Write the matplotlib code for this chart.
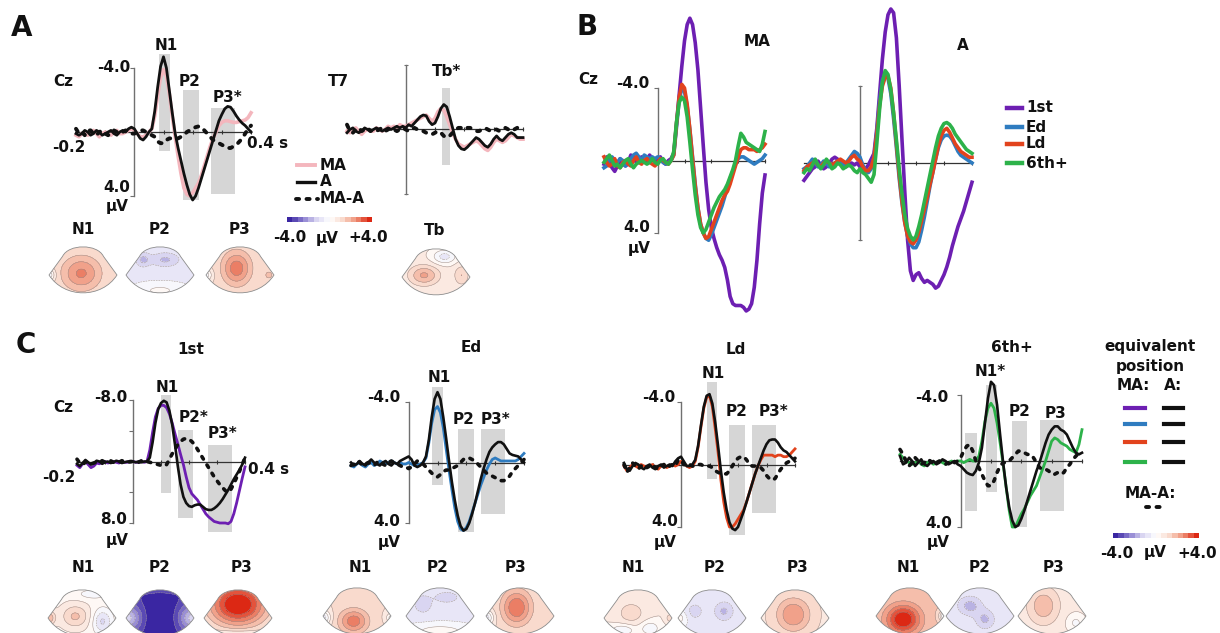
import numpy as np
import matplotlib
matplotlib.use("Agg")
import matplotlib.pyplot as plt
from matplotlib.colors import LinearSegmentedColormap, ListedColormap, BoundaryNorm
from matplotlib.path import Path
from matplotlib.patches import PathPatch
from matplotlib.lines import Line2D
import matplotlib.cm as cm

W, H = 1220, 633
plt.rcParams['font.family'] = ['DejaVu Sans']
plt.rcParams['font.weight'] = 'bold'

# ---------------- data (μV, negative up) ----------------
TIME_S = np.round(np.linspace(-0.2, 0.4, 61), 3)

# Panel A, Cz
A_CZ_MA = [0.2, 0.3, 0.1, 0.0, 0.2, 0.1, -0.1, 0.1, 0.3, 0.1, 0.0, 0.1, 0.2, 0.0, -0.1, 0.1, 0.1, 0.0, -0.1, -0.2,
           -0.1, 0.1, 0.3, 0.3, 0.2, 0.0, -0.2, -1.0, -2.3, -3.4,
           -3.9, -3.5, -2.4, -1.0, 0.3, 1.5, 2.6, 3.5, 3.9, 4.0,
           3.8, 3.5, 3.2, 2.7, 2.1, 1.5, 0.9, 0.4, 0.0, -0.4,
           -0.6, -0.7, -0.7, -0.65, -0.6, -0.6, -0.65, -0.7, -0.75, -0.9,
           -1.2]
A_CZ_A = [0.1, 0.2, 0.1, -0.1, 0.0, 0.2, 0.1, -0.1, 0.0, 0.2, 0.1, 0.0, -0.1, 0.1, 0.2, 0.0, -0.1, 0.0, -0.2, -0.3,
          -0.2, 0.1, 0.4, 0.5, 0.3, 0.0, -0.2, -1.3, -2.8, -4.1,
          -4.7, -4.0, -2.6, -1.2, 0.1, 1.0, 1.8, 2.6, 3.3, 3.9,
          4.25, 4.0, 3.5, 2.9, 2.3, 1.7, 1.1, 0.5, -0.1, -0.7,
          -1.1, -1.45, -1.6, -1.55, -1.3, -1.0, -0.75, -0.55, -0.4, -0.2,
          0.0]
A_CZ_DIFF = [-0.2, 0.1, 0.0, 0.2, -0.1, -0.1, 0.1, 0.2, 0.0, -0.1, 0.1, 0.2, 0.1, -0.1, 0.0, 0.1, 0.0, -0.1, 0.0, 0.1,
             0.1, 0.0, -0.1, -0.1, 0.0, 0.1, 0.2, 0.3, 0.6, 0.7,
             0.7, 0.5, 0.4, 0.4, 0.4, 0.4, 0.3, 0.2, 0.0, -0.1,
             -0.2, -0.3, -0.35, -0.3, -0.1, 0.1, 0.3, 0.5, 0.6, 0.7,
             0.8, 0.9, 1.0, 1.0, 0.9, 0.8, 0.6, 0.4, 0.1, -0.2,
             -0.4]
A_CZ_WINDOWS = [(0.086, 0.121, -4.9, 1.2), (0.166, 0.220, -2.6, 4.25), (0.262, 0.345, -1.5, 3.9)]

# Panel A, T7
A_T7_MA = [0.1, 0.2, 0.0, -0.1, 0.1, 0.3, 0.1, 0.0, 0.1, 0.1, -0.1, 0.0, 0.1, 0.0, -0.2, -0.1, -0.2, -0.1, -0.3, -0.2,
           -0.2, -0.3, -0.4, -0.5, -0.6, -0.7, -0.8, -0.9, -0.7, -0.5,
           -0.7, -1.1, -1.3, -1.2, -0.8, -0.3, 0.2, 0.6, 0.9, 1.0,
           1.1, 1.0, 0.9, 0.8, 0.7, 0.8, 1.0, 1.2, 1.3, 1.1,
           0.8, 0.6, 0.7, 0.8, 0.7, 0.5, 0.3, 0.4, 0.5, 0.6,
           0.6]
A_T7_A = [0.2, 0.0, -0.1, 0.1, 0.2, 0.1, -0.1, 0.0, 0.1, 0.0, -0.1, 0.0, 0.1, 0.0, -0.1, 0.0, -0.1, -0.2, -0.1, -0.2,
          -0.1, -0.3, -0.2, -0.4, -0.6, -0.8, -0.9, -0.85, -0.5, -0.3,
          -0.4, -0.8, -1.3, -1.55, -1.4, -0.8, -0.1, 0.6, 1.0, 1.2,
          1.25, 1.1, 0.9, 0.7, 0.5, 0.6, 0.8, 1.0, 1.1, 0.9,
          0.6, 0.4, 0.6, 0.7, 0.5, 0.3, 0.2, 0.3, 0.5, 0.5,
          0.5]
A_T7_DIFF = [-0.3, 0.1, 0.2, 0.0, -0.1, 0.1, 0.0, -0.1, 0.1, 0.0, 0.1, 0.0, -0.1, 0.1, 0.0, -0.1, 0.0, 0.1, 0.0, -0.1,
             0.0, 0.1, 0.0, -0.1, 0.0, 0.1, 0.1, 0.2, 0.3, 0.3,
             0.2, 0.1, 0.2, 0.4, 0.5, 0.4, 0.2, 0.0, -0.1, -0.1,
             -0.2, -0.1, -0.1, 0.0, 0.1, 0.1, 0.0, -0.1, 0.0, 0.1,
             0.0, 0.0, 0.1, 0.0, -0.1, 0.0, 0.1, 0.0, -0.1, -0.2,
             -0.2]
A_T7_WINDOWS = [(0.124, 0.152, -2.6, 2.2)]

# Panel B, MA condition
B_MA_1ST = [0.2, -0.2, 0.1, 0.4, 0.6, 0.3, -0.1, 0.2, 0.3, 0.1, -0.3, -0.2, 0.1, 0.0, -0.2, 0.1, 0.0, -0.3, -0.1, 0.0,
            -0.1, -0.2, 0.1, 0.2, 0.0, -0.1, -0.4, -2.0, -3.6, -5.2,
            -6.6, -7.5, -7.85, -7.5, -6.5, -5.0, -2.9, -0.8, 1.2, 2.7,
            3.7, 4.3, 4.8, 5.2, 5.5, 5.9, 6.6, 7.5, 7.9, 8.0,
            8.0, 8.0, 8.1, 8.3, 8.2, 7.9, 7.0, 5.5, 3.5, 1.8,
            0.8]
B_MA_ED = [0.4, 0.3, 0.0, -0.2, 0.0, 0.1, -0.1, 0.0, 0.3, 0.2, -0.1, -0.3, -0.4, -0.2, 0.0, -0.3, -0.2, -0.1, -0.2, -0.1,
           -0.2, -0.1, 0.1, 0.2, 0.1, 0.0, -0.3, -1.8, -3.3, -4.0,
           -3.8, -3.0, -1.7, -0.2, 1.3, 2.6, 3.5, 4.0, 4.3, 4.4,
           4.1, 3.7, 3.3, 2.9, 2.5, 2.0, 1.5, 1.0, 0.6, 0.2,
           -0.1, -0.2, -0.2, -0.1, 0.0, 0.1, 0.2, 0.1, 0.0, -0.1,
           -0.3]
B_MA_LD = [-0.2, 0.1, 0.3, 0.2, -0.1, 0.3, 0.4, 0.1, 0.0, 0.2, 0.3, 0.0, -0.2, 0.1, 0.2, 0.0, -0.1, 0.1, 0.2, 0.3,
           0.1, -0.1, 0.0, 0.1, 0.2, 0.0, -0.3, -2.0, -3.5, -4.2,
           -4.0, -3.1, -1.7, -0.1, 1.4, 2.6, 3.5, 4.0, 4.3, 4.2,
           3.8, 3.4, 3.0, 2.6, 2.2, 1.9, 1.7, 1.3, 0.8, 0.3,
           -0.2, -0.6, -0.7, -0.7, -0.6, -0.6, -0.6, -0.5, -0.6, -0.7,
           -0.9]
B_MA_6TH = [0.1, -0.1, -0.3, 0.0, 0.3, 0.2, 0.4, 0.2, 0.0, -0.1, 0.2, 0.4, 0.2, 0.1, 0.0, 0.1, 0.2, 0.1, -0.1, 0.1,
            0.2, 0.0, -0.1, 0.1, 0.2, 0.0, -0.5, -2.1, -3.2, -3.5,
            -3.3, -2.4, -1.0, 0.5, 1.9, 3.0, 3.7, 4.0, 3.8, 3.4,
            3.0, 2.6, 2.3, 2.0, 1.8, 1.6, 1.3, 0.9, 0.5, 0.0,
            -0.8, -1.5, -1.3, -1.0, -0.9, -0.8, -0.7, -0.6, -0.5, -0.9,
            -1.6]

# Panel B, A condition
B_A_1ST = [0.9, 0.7, 0.5, 0.3, 0.2, -0.1, 0.1, 0.3, 0.2, 0.0, -0.2, -0.3, -0.2, 0.0, 0.1, 0.2, 0.1, 0.0, 0.1, 0.0,
           0.2, 0.4, 0.3, 0.1, -0.2, -0.5, -1.8, -3.6, -5.4, -6.8,
           -7.7, -8.0, -7.8, -6.5, -4.0, -1.2, 1.5, 4.0, 5.6, 6.1,
           5.8, 5.7, 6.0, 6.2, 6.1, 6.2, 6.3, 6.5, 6.4, 6.1,
           5.8, 5.4, 4.9, 4.3, 3.8, 3.3, 2.9, 2.5, 2.0, 1.5,
           1.0]
B_A_ED = [0.3, 0.2, 0.0, -0.2, 0.0, 0.2, 0.1, -0.1, 0.0, 0.2, 0.1, 0.0, -0.1, 0.0, 0.1, 0.0, -0.2, -0.4, -0.6, -0.5,
          -0.3, 0.1, 0.4, 0.5, 0.3, -0.3, -1.6, -3.2, -4.3, -4.6,
          -4.4, -3.6, -2.3, -0.8, 0.8, 2.1, 3.1, 3.8, 4.2, 4.4,
          4.4, 4.1, 3.5, 2.8, 2.0, 1.2, 0.5, -0.2, -0.8, -1.2,
          -1.4, -1.45, -1.4, -1.2, -0.9, -0.6, -0.4, -0.3, -0.2, -0.1,
          0.0]
B_A_LD = [0.4, 0.2, 0.1, 0.0, -0.1, 0.1, 0.2, 0.0, -0.1, 0.0, 0.1, 0.0, -0.1, -0.2, -0.1, 0.0, -0.1, -0.3, -0.4, -0.2,
          -0.1, 0.2, 0.4, 0.4, 0.2, -0.3, -1.5, -3.0, -4.0, -4.45,
          -4.5, -3.9, -2.6, -1.0, 0.6, 2.0, 3.1, 3.8, 4.1, 4.2,
          4.0, 3.6, 3.0, 2.4, 1.8, 1.1, 0.5, -0.2, -0.9, -1.4,
          -1.7, -1.8, -1.6, -1.3, -1.0, -0.8, -0.6, -0.5, -0.4, -0.3,
          -0.3]
B_A_6TH = [0.5, 0.3, 0.4, 0.1, -0.2, 0.1, 0.3, 0.1, -0.2, 0.0, 0.3, 0.2, 0.0, 0.1, 0.3, 0.2, 0.1, 0.2, 0.4, 0.5,
           0.3, 0.5, 0.6, 0.8, 1.0, 0.6, -1.0, -2.8, -4.2, -4.8,
           -4.6, -3.8, -2.6, -1.2, 0.3, 1.6, 2.7, 3.4, 3.8, 4.0,
           3.8, 3.3, 2.7, 2.0, 1.3, 0.6, -0.1, -0.8, -1.4, -1.8,
           -2.05, -2.1, -2.0, -1.8, -1.5, -1.3, -1.1, -0.9, -0.7, -0.6,
           -0.5]

# Panel C, 1st
C_1ST_MA = [0.5, 0.8, 0.3, 0.0, 0.4, 0.8, 0.6, 0.2, 0.3, 0.1, 0.0, 0.2, 0.1, 0.0, 0.1, 0.2, 0.0, 0.1, 0.1, 0.0,
            0.0, 0.1, 0.1, 0.0, 0.1, 0.0, -1.5, -3.8, -5.8, -6.9,
            -7.3, -7.3, -7.0, -6.2, -5.0, -3.6, -2.3, -0.9, 0.4, 2.0,
            3.4, 4.2, 4.6, 5.0, 5.6, 6.2, 6.8, 7.2, 7.5, 7.8,
            7.9, 8.0, 8.0, 8.0, 8.1, 7.8, 6.8, 5.4, 3.8, 2.2,
            0.7]
C_1ST_A = [0.3, 0.6, 0.2, -0.2, 0.1, 0.4, 0.2, -0.1, 0.0, 0.3, 0.1, 0.0, 0.2, 0.1, -0.1, 0.0, 0.2, 0.1, 0.0, 0.1,
           0.0, 0.1, 0.0, 0.1, 0.0, 0.0, -0.5, -2.5, -5.0, -6.8,
           -7.6, -7.9, -7.7, -6.6, -4.8, -2.2, 0.6, 3.0, 4.6, 5.4,
           5.8, 5.9, 5.7, 5.6, 5.6, 5.9, 6.2, 6.3, 6.3, 6.1,
           5.8, 5.4, 4.9, 4.3, 3.7, 3.0, 2.3, 1.7, 1.1, 0.4,
           -0.5]
C_1ST_DIFF = [-0.3, 0.2, 0.4, 0.1, 0.0, 0.3, 0.2, 0.1, 0.0, -0.1, 0.1, 0.0, -0.1, 0.1, 0.0, 0.1, -0.1, 0.0, 0.1, 0.0,
              0.0, 0.0, 0.1, -0.1, 0.0, 0.0, 0.1, 0.2, 0.3, 0.4,
              0.5, 0.6, 0.4, -0.3, -1.0, -1.6, -2.2, -2.6, -2.9, -3.0,
              -2.9, -2.6, -2.2, -1.6, -1.0, -0.4, 0.2, 0.8, 1.4, 2.0,
              2.5, 3.0, 3.4, 3.8, 4.0, 3.6, 2.9, 2.1, 1.3, 0.4,
              -0.5]
C_1ST_WINDOWS = [(0.100, 0.136, -8.6, 4.1), (0.160, 0.214, -4.1, 7.3), (0.268, 0.354, -2.1, 9.2)]

# Panel C, Ed
C_ED_MA = [0.2, 0.3, 0.1, 0.0, 0.2, 0.3, 0.1, 0.0, 0.2, 0.1, -0.1, 0.0, 0.1, 0.0, -0.1, 0.0, 0.1, 0.0, 0.1, 0.1,
           0.0, 0.1, 0.2, 0.2, 0.1, 0.0, -0.3, -1.3, -2.6, -3.5,
           -3.7, -3.3, -2.3, -0.9, 0.5, 1.8, 3.0, 3.9, 4.4, 4.5,
           4.3, 3.9, 3.3, 2.7, 2.1, 1.5, 1.0, 0.5, 0.1, -0.2,
           -0.3, -0.2, -0.1, -0.1, -0.1, -0.1, -0.1, -0.1, -0.2, -0.4,
           -0.6]
C_ED_A = [0.0, 0.2, 0.1, -0.1, 0.1, 0.2, 0.0, -0.2, 0.0, 0.1, 0.2, 0.0, -0.1, 0.1, 0.2, 0.0, 0.1, -0.1, -0.2, -0.3,
          -0.4, -0.2, 0.2, 0.3, 0.2, 0.0, -0.4, -1.5, -3.0, -4.2,
          -4.65, -4.2, -3.0, -1.6, -0.1, 1.3, 2.5, 3.5, 4.2, 4.5,
          4.4, 4.0, 3.4, 2.7, 1.9, 1.1, 0.4, -0.2, -0.7, -1.0,
          -1.2, -1.35, -1.35, -1.2, -0.9, -0.6, -0.5, -0.45, -0.4, -0.2,
          0.0]
C_ED_DIFF = [0.2, 0.1, -0.1, 0.0, 0.2, 0.1, 0.0, 0.1, 0.2, 0.0, -0.1, 0.1, 0.2, 0.0, -0.1, 0.0, 0.1, 0.2, 0.3, 0.3,
             0.4, 0.3, 0.1, -0.1, 0.0, 0.1, 0.3, 0.5, 0.7, 0.9,
             0.95, 0.8, 0.6, 0.5, 0.5, 0.4, 0.3, 0.2, 0.0, -0.2,
             -0.3, -0.3, -0.2, -0.1, 0.1, 0.3, 0.5, 0.7, 0.8, 0.9,
             1.0, 1.1, 1.2, 1.2, 1.1, 0.9, 0.6, 0.4, 0.2, 0.0,
             -0.2]
C_ED_WINDOWS = [(0.080, 0.120, -5.0, 1.5), (0.170, 0.225, -2.2, 4.6), (0.250, 0.335, -2.2, 3.4)]

# Panel C, Ld
C_LD_MA = [0.1, 0.4, 0.2, 0.0, 0.1, 0.2, 0.0, 0.1, 0.2, 0.1, 0.0, 0.2, 0.3, 0.1, 0.0, 0.2, 0.1, 0.0, 0.1, 0.0,
           -0.2, -0.1, 0.1, 0.2, 0.1, -0.2, -1.1, -2.4, -3.6, -4.3,
           -4.4, -3.7, -2.3, -0.8, 1.0, 2.4, 3.4, 4.0, 4.0, 3.8,
           3.5, 3.2, 2.9, 2.4, 1.8, 1.2, 0.6, 0.1, -0.3, -0.6,
           -0.6, -0.6, -0.6, -0.5, -0.6, -0.6, -0.5, -0.5, -0.6, -0.8,
           -1.0]
C_LD_A = [-0.1, 0.3, 0.4, 0.1, -0.1, 0.0, 0.2, 0.3, 0.1, 0.0, 0.2, 0.3, 0.1, 0.0, 0.2, 0.1, 0.0, 0.1, -0.2, -0.4,
          -0.5, -0.2, 0.1, 0.1, 0.0, -0.3, -1.2, -2.5, -3.7, -4.4,
          -4.5, -3.9, -2.7, -1.2, 0.4, 1.8, 2.9, 3.7, 4.1, 4.2,
          4.0, 3.5, 3.0, 2.4, 1.8, 1.2, 0.6, 0.1, -0.4, -0.9,
          -1.3, -1.55, -1.6, -1.6, -1.4, -1.1, -0.9, -0.8, -0.6, -0.4,
          -0.2]
C_LD_DIFF = [0.0, 0.5, 0.2, -0.1, 0.1, 0.3, 0.1, 0.0, 0.2, 0.1, 0.0, 0.2, 0.3, 0.1, 0.0, 0.2, 0.1, 0.0, 0.1, -0.3,
             -0.3, 0.0, 0.1, 0.0, 0.1, 0.1, 0.0, 0.0, 0.1, 0.1,
             0.1, 0.2, 0.4, 0.5, 0.6, 0.6, 0.6, 0.4, 0.1, -0.2,
             -0.4, -0.5, -0.5, -0.3, 0.0, 0.1, 0.1, 0.1, 0.2, 0.4,
             0.7, 0.9, 1.0, 0.9, 0.6, 0.3, 0.1, -0.1, -0.2, -0.3,
             -0.4]
C_LD_WINDOWS = [(0.090, 0.125, -5.3, 0.9), (0.170, 0.225, -2.5, 4.5), (0.250, 0.335, -2.5, 3.1)]

# Panel C, 6th+
C_6TH_MA = [-0.4, -0.2, 0.0, 0.1, 0.2, 0.1, 0.0, 0.2, 0.3, 0.1, 0.0, 0.2, 0.1, 0.0, 0.1, 0.2, 0.1, 0.0, 0.1, 0.0,
            0.0, 0.1, 0.0, -0.1, 0.0, 0.0, -0.3, -1.2, -2.4, -3.2,
            -3.5, -3.2, -2.3, -1.1, 0.2, 1.6, 3.0, 4.0, 4.0, 3.6,
            3.2, 2.9, 2.5, 2.1, 1.8, 1.5, 1.0, 0.5, 0.0, -0.6,
            -1.2, -1.4, -1.3, -1.1, -1.0, -0.9, -0.7, -0.6, -0.5, -1.0,
            -1.9]
C_6TH_A = [-0.3, 0.2, 0.1, -0.2, 0.0, 0.3, 0.1, -0.1, 0.2, 0.3, 0.1, 0.0, 0.2, 0.1, -0.1, 0.0, 0.2, 0.1, 0.0, 0.2,
           0.3, 0.5, 0.7, 0.8, 0.85, 0.6, 0.1, -0.8, -2.3, -3.8,
           -4.8, -4.6, -3.4, -1.6, 0.1, 1.6, 2.8, 3.6, 4.0, 3.9,
           3.5, 3.0, 2.4, 1.8, 1.2, 0.6, 0.1, -0.5, -1.1, -1.6,
           -1.9, -2.1, -2.1, -1.9, -1.8, -1.6, -1.2, -0.8, -0.5, -0.4,
           -0.5]
C_6TH_DIFF = [-0.7, -0.4, 0.0, 0.3, 0.1, -0.2, 0.0, 0.2, 0.1, -0.1, 0.0, 0.2, 0.1, 0.0, 0.1, 0.2, 0.1, 0.0, 0.1, 0.0,
              -0.2, -0.6, -0.9, -1.0, -0.6, 0.0, 0.4, 0.8, 1.2, 1.5,
              1.5, 1.2, 0.7, 0.3, 0.1, 0.1, 0.0, -0.2, -0.4, -0.6,
              -0.6, -0.5, -0.4, -0.4, -0.2, 0.1, 0.4, 0.5, 0.5, 0.6,
              0.8, 0.8, 0.7, 0.8, 0.7, 0.4, 0.2, -0.1, -0.3, -0.5,
              -0.6]
C_6TH_WINDOWS = [(0.015, 0.055, -1.7, 3.0), (0.085, 0.120, -4.6, 1.9), (0.170, 0.220, -2.4, 4.0), (0.260, 0.340, -2.5, 3.0)]

# scalp maps: [baseline μV, (amplitude, x, y, spread_x, spread_y), ...]
TOPO_A_N1 = [1.0, (1.6, -0.05, 0.05, 0.4, 0.35), (-1.5, -1.0, 0.0, 0.12, 0.12)]
TOPO_A_P2 = [-0.6, (-1.0, -0.5, 0.45, 0.15, 0.15), (-1.0, 0.15, 0.45, 0.3, 0.15), (0.7, 0.0, -0.45, 0.5, 0.15)]
TOPO_A_P3 = [1.0, (1.8, -0.1, 0.2, 0.3, 0.35), (0.7, 0.85, 0.0, 0.1, 0.1), (-1.3, -1.0, 0.0, 0.12, 0.12)]
TOPO_A_TB = [0.6, (1.5, -0.35, 0.05, 0.3, 0.2), (-1.3, 0.25, 0.6, 0.25, 0.15), (0.9, 0.75, 0.05, 0.15, 0.2)]
TOPO_C_1ST = [[0.3, (1.3, -0.2, 0.05, 0.3, 0.25), (-1.4, 0.6, -0.1, 0.2, 0.25), (1.5, -0.95, 0.0, 0.12, 0.15),
               (-0.6, 0.3, 0.7, 0.3, 0.1)],
              [-3.4, (-0.8, 0.0, -0.1, 0.35, 0.9), (2.2, -1.0, 0.0, 0.3, 0.25), (2.2, 1.0, 0.0, 0.3, 0.25),
               (1.0, 0.0, 0.9, 0.5, 0.12)],
              [0.6, (3.6, 0.0, 0.4, 0.6, 0.45), (-1.0, 0.0, -0.55, 0.6, 0.12)]]
TOPO_C_ED = [[1.0, (1.8, -0.1, -0.15, 0.3, 0.25), (-1.8, -1.0, -0.05, 0.15, 0.15), (-1.2, 1.0, -0.05, 0.1, 0.1)],
             [-0.6, (-0.8, -0.5, 0.35, 0.2, 0.2), (-0.8, 0.2, 0.55, 0.25, 0.12), (0.9, 0.0, -0.45, 0.6, 0.15)],
             [1.0, (2.0, -0.1, 0.25, 0.3, 0.35), (-1.8, -1.0, -0.05, 0.15, 0.15)]]
TOPO_C_LD = [[0.5, (0.8, -0.2, 0.15, 0.3, 0.25), (-1.0, -0.45, -0.35, 0.25, 0.12), (-0.9, 0.35, -0.3, 0.2, 0.15),
              (0.8, 0.95, 0.0, 0.1, 0.1)],
             [-0.6, (-1.0, 0.35, 0.2, 0.2, 0.2), (-0.6, -0.5, 0.2, 0.2, 0.2), (0.8, -0.95, 0.0, 0.15, 0.15)],
             [0.9, (1.6, -0.05, 0.1, 0.35, 0.35)]]
TOPO_C_6TH = [[1.5, (2.6, -0.2, -0.1, 0.35, 0.3), (-2.0, 1.0, 0.0, 0.1, 0.1)],
              [-0.6, (-1.1, -0.3, 0.3, 0.25, 0.2), (-1.0, 0.15, -0.1, 0.2, 0.2)],
              [0.7, (1.2, -0.25, 0.3, 0.3, 0.35), (-0.8, 0.7, -0.2, 0.2, 0.2)]]

for s in [A_CZ_MA, A_CZ_A, A_CZ_DIFF, A_T7_MA, A_T7_A, A_T7_DIFF, B_MA_1ST, B_MA_ED, B_MA_LD, B_MA_6TH,
          B_A_1ST, B_A_ED, B_A_LD, B_A_6TH, C_1ST_MA, C_1ST_A, C_1ST_DIFF, C_ED_MA, C_ED_A, C_ED_DIFF,
          C_LD_MA, C_LD_A, C_LD_DIFF, C_6TH_MA, C_6TH_A, C_6TH_DIFF]:
    assert len(s) == 61, len(s)

# ---------------- style ----------------
PURPLE, BLUE, RED, GREEN = '#6d1fb2', '#2f7cc0', '#e2431d', '#2db24a'
PINK, BLACK, BARGRAY = '#f4b6bd', '#111111', '#d6d6d6'
CMAP_BASE = LinearSegmentedColormap.from_list(
    'erp', ['#3a26a2', '#8a7dcf', '#d9d5f1', '#ffffff', '#f9dacd', '#ef9379', '#dc2814'])
CMAP = ListedColormap(CMAP_BASE(np.linspace(0, 1, 16)))
LEVELS = np.arange(-4, 4.01, 0.5)
NORM = BoundaryNorm(LEVELS, CMAP.N)
DASH = dict(color=BLACK, lw=2.8, linestyle=(0, (0.8, 1.9)), dash_capstyle='round', zorder=5)

fig = plt.figure(figsize=(W / 100, H / 100), dpi=100)


def fx(px):
    return px / W


def fy(py):
    return 1 - py / H


def label(px, py, s, size=11, ha='center', va='center'):
    fig.text(fx(px), fy(py), s, fontsize=size, fontweight='bold', ha=ha, va=va, color='#111111')


def erp_axes(x_a, x_b, y_a, y_b, vmax, yticks, tickdir='out', xlim=(-0.23, 0.43)):
    vlim = 2.4 * vmax
    sx = (x_b - x_a) / 0.6
    sy = (y_b - y_a) / (2 * vmax)
    left = x_a + (xlim[0] + 0.2) * sx
    right = x_a + (xlim[1] + 0.2) * sx
    top = y_a + (-vlim + vmax) * sy
    bottom = y_a + (vlim + vmax) * sy
    ax = fig.add_axes([left / W, 1 - bottom / H, (right - left) / W, (bottom - top) / H])
    ax.set_xlim(*xlim)
    ax.set_ylim(vlim, -vlim)
    ax.patch.set_alpha(0)
    for s in ('top', 'right'):
        ax.spines[s].set_visible(False)
    ax.spines['left'].set_position(('data', 0))
    ax.spines['left'].set_bounds(-vmax, vmax)
    ax.spines['bottom'].set_position(('data', 0))
    ax.spines['bottom'].set_bounds(-0.2, 0.4)
    ax.spines['left'].set_color('#707070')
    ax.spines['bottom'].set_color('#333333')
    ax.spines['left'].set_linewidth(1.0)
    ax.spines['bottom'].set_linewidth(0.9)
    ax.set_xticks([-0.1, 0.1, 0.2, 0.3, 0.4])
    ax.set_yticks(yticks)
    ax.tick_params(axis='x', length=3, width=0.8, direction='inout', color='#333333', labelbottom=False)
    ax.tick_params(axis='y', length=3, width=0.8, direction=tickdir, color='#707070', labelleft=False)
    return ax


def windows(ax, wins):
    for t0, t1, v0, v1 in wins:
        ax.bar((t0 + t1) / 2, v1 - v0, bottom=v0, width=t1 - t0, color=BARGRAY, zorder=1, linewidth=0)


OUTLINE = Path([(-1, 0), (-0.6, 0.55), (-0.42, 0.92), (0.42, 0.92), (0.6, 0.55), (1, 0),
                (0.55, -0.7), (-0.55, -0.7), (-1, 0), (-1, 0)],
               [Path.MOVETO, Path.LINETO, Path.CURVE4, Path.CURVE4, Path.CURVE4, Path.LINETO,
                Path.CURVE4, Path.CURVE4, Path.CURVE4, Path.CLOSEPOLY])


def topo(cx, cy, spec, scale=34):
    ax = fig.add_axes([(cx - 1.08 * scale) / W, 1 - (cy + 0.62 * scale) / H, 2.16 * scale / W, 1.55 * scale / H])
    ax.set_xlim(-1.08, 1.08)
    ax.set_ylim(-0.62, 0.93)
    ax.axis('off')
    gx, gy = np.meshgrid(np.linspace(-1.05, 1.05, 170), np.linspace(-0.6, 0.92, 130))
    z = np.full_like(gx, spec[0])
    for a, bx, by, sxx, syy in spec[1:]:
        z += a * np.exp(-((gx - bx) ** 2 / (2 * sxx ** 2) + (gy - by) ** 2 / (2 * syy ** 2)))
    z = np.clip(z, -3.99, 3.99)
    patch = PathPatch(OUTLINE, facecolor='none', edgecolor='#8c8c8c', lw=0.6, zorder=3)
    ax.add_patch(patch)
    cf = ax.contourf(gx, gy, z, levels=LEVELS, cmap=CMAP, norm=NORM)
    cf.set_clip_path(patch)
    cl = ax.contour(gx, gy, z, levels=LEVELS, colors='#9b8d8a', linewidths=0.35)
    cl.set_clip_path(patch)


def colorbar(x0, x1, y0, y1):
    cax = fig.add_axes([fx(x0), fy(y1), (x1 - x0) / W, (y1 - y0) / H])
    cb = fig.colorbar(cm.ScalarMappable(norm=NORM, cmap=CMAP), cax=cax, orientation='horizontal')
    cb.outline.set_visible(False)
    cb.set_ticks([])
    cb.minorticks_off()
    cax.tick_params(length=0, labelbottom=False, labeltop=False)


def legend_line(x0, x1, y, **kw):
    fig.add_artist(Line2D([fx(x0), fx(x1)], [fy(y), fy(y)], transform=fig.transFigure, **kw))


t = TIME_S

# ---------------- Panel A ----------------
label(22, 28, 'A', size=20)
ax = erp_axes(76, 251, 68, 196, 4, [-4, 4])
windows(ax, A_CZ_WINDOWS)
ax.plot(t, A_CZ_MA, color=PINK, lw=2.6, zorder=3)
ax.plot(t, A_CZ_A, color=BLACK, lw=2.0, zorder=4)
ax.plot(t, A_CZ_DIFF, **DASH)
label(63, 81, 'Cz')
label(130, 68, '-4.0', ha='right')
label(130, 188, '4.0', ha='right')
label(117, 207, 'μV')
label(69, 147, '-0.2')
label(268, 143, '0.4 s')
label(166, 45, 'N1')
label(190, 81, 'P2')
label(227, 98, 'P3*')

ax = erp_axes(347, 523, 65, 194, 4, [-4, 4], tickdir='inout')
windows(ax, A_T7_WINDOWS)
ax.plot(t, A_T7_MA, color=PINK, lw=2.6, zorder=3)
ax.plot(t, A_T7_A, color=BLACK, lw=2.0, zorder=4)
ax.plot(t, A_T7_DIFF, **DASH)
label(338, 81, 'T7')
label(447, 72, 'Tb*')

legend_line(297, 315, 165, color=PINK, lw=2.8)
legend_line(297, 315, 182, color=BLACK, lw=2.4)
legend_line(296, 318, 199, **{k: v for k, v in DASH.items() if k != 'zorder'})
label(320, 165, 'MA', ha='left')
label(320, 182, 'A', ha='left')
label(320, 199, 'MA-A', ha='left')
colorbar(287, 372, 217, 222)
label(290, 238, '-4.0')
label(327, 238, 'μV')
label(368, 238, '+4.0')

for (cx, name, spec) in [(83, 'N1', TOPO_A_N1), (160, 'P2', TOPO_A_P2), (240, 'P3', TOPO_A_P3)]:
    label(cx, 229, name)
    topo(cx, 275, spec)
label(435, 230, 'Tb')
topo(436, 277, TOPO_A_TB)

# ---------------- Panel B ----------------
label(587, 27, 'B', size=20)
ax = erp_axes(604, 765, 88, 233, 4, [-4, 4])
for s, c in [(B_MA_1ST, PURPLE), (B_MA_ED, BLUE), (B_MA_LD, RED), (B_MA_6TH, GREEN)]:
    ax.plot(t, s, color=c, lw=2.6, zorder=3)
ax = erp_axes(804, 972, 86, 240, 4, [-4, 4], tickdir='inout')
for s, c in [(B_A_1ST, PURPLE), (B_A_ED, BLUE), (B_A_LD, RED), (B_A_6TH, GREEN)]:
    ax.plot(t, s, color=c, lw=2.6, zorder=3)
label(757, 42, 'MA')
label(963, 46, 'A')
label(588, 80, 'Cz')
label(649, 83, '-4.0', ha='right')
label(650, 228, '4.0', ha='right')
label(639, 248, 'μV')
for y, c, name in [(108, PURPLE, '1st'), (127, BLUE, 'Ed'), (144, RED, 'Ld'), (163, GREEN, '6th+')]:
    legend_line(1007, 1022, y, color=c, lw=3.2)
    label(1026, y, name, ha='left')

# ---------------- Panel C ----------------
label(26, 345, 'C', size=20)
panels = [
    dict(geo=(77, 245, 400, 523, 8), ticks=[-8, -4, 4, 8], ma=C_1ST_MA, a=C_1ST_A, diff=C_1ST_DIFF,
         win=C_1ST_WINDOWS, color=PURPLE),
    dict(geo=(351, 524, 402, 523, 4), ticks=[-4, 4], ma=C_ED_MA, a=C_ED_A, diff=C_ED_DIFF,
         win=C_ED_WINDOWS, color=BLUE),
    dict(geo=(624, 795, 402, 527, 4), ticks=[-4, 4], ma=C_LD_MA, a=C_LD_A, diff=C_LD_DIFF,
         win=C_LD_WINDOWS, color=RED),
    dict(geo=(900, 1082, 395, 527, 4), ticks=[-4, 4], ma=C_6TH_MA, a=C_6TH_A, diff=C_6TH_DIFF,
         win=C_6TH_WINDOWS, color=GREEN),
]
for p in panels:
    ax = erp_axes(*p['geo'], p['ticks'])
    windows(ax, p['win'])
    ax.plot(t, p['ma'], color=p['color'], lw=2.0, zorder=3)
    ax.plot(t, p['a'], color=BLACK, lw=1.9, zorder=4)
    ax.plot(t, p['diff'], **{**DASH, 'lw': 2.6})

# 1st
label(191, 349, '1st')
label(167, 387, 'N1')
label(194, 418, 'P2*')
label(222, 433, 'P3*')
label(63, 408, 'Cz')
label(127, 398, '-8.0', ha='right')
label(127, 520, '8.0', ha='right')
label(117, 540, 'μV')
label(59, 477, '-0.2')
label(269, 470, '0.4 s')
# Ed
label(471, 348, 'Ed')
label(439, 378, 'N1')
label(464, 419, 'P2')
label(496, 419, 'P3*')
label(400, 398, '-4.0', ha='right')
label(400, 521, '4.0', ha='right')
label(389, 542, 'μV')
# Ld
label(736, 350, 'Ld')
label(713, 373, 'N1')
label(737, 412, 'P2')
label(773, 412, 'P3*')
label(675, 398, '-4.0', ha='right')
label(678, 522, '4.0', ha='right')
label(665, 542, 'μV')
# 6th+
label(1012, 348, '6th+')
label(990, 372, 'N1*')
label(1020, 412, 'P2')
label(1055, 414, 'P3')
label(948, 398, '-4.0', ha='right')
label(952, 523, '4.0', ha='right')
label(938, 543, 'μV')

topo_rows = [
    ([83, 160, 242], [82, 160, 238], 618, TOPO_C_1ST),
    ([360, 438, 515], [357, 440, 520], 616, TOPO_C_ED),
    ([633, 715, 797], [638, 712, 795], 618, TOPO_C_LD),
    ([908, 980, 1053], [910, 980, 1052], 616, TOPO_C_6TH),
]
for lx, mx, my, specs in topo_rows:
    for x_l, x_m, name, spec in zip(lx, mx, ['N1', 'P2', 'P3'], specs):
        label(x_l, 567, name)
        topo(x_m, my, spec)

# C legend
label(1150, 347, 'equivalent')
label(1150, 366, 'position')
label(1133, 386, 'MA:')
label(1173, 386, 'A:')
for y, c in [(408, PURPLE), (424, BLUE), (442, RED), (462, GREEN)]:
    legend_line(1125, 1145, y, color=c, lw=3.0)
    legend_line(1164, 1183, y, color=BLACK, lw=3.0)
label(1150, 493, 'MA-A:')
legend_line(1146, 1164, 507, **{k: v for k, v in DASH.items() if k != 'zorder'})
colorbar(1113, 1199, 533, 538)
label(1117, 553, '-4.0')
label(1155, 553, 'μV')
label(1197, 553, '+4.0')

fig.savefig('out.png', dpi=100)
